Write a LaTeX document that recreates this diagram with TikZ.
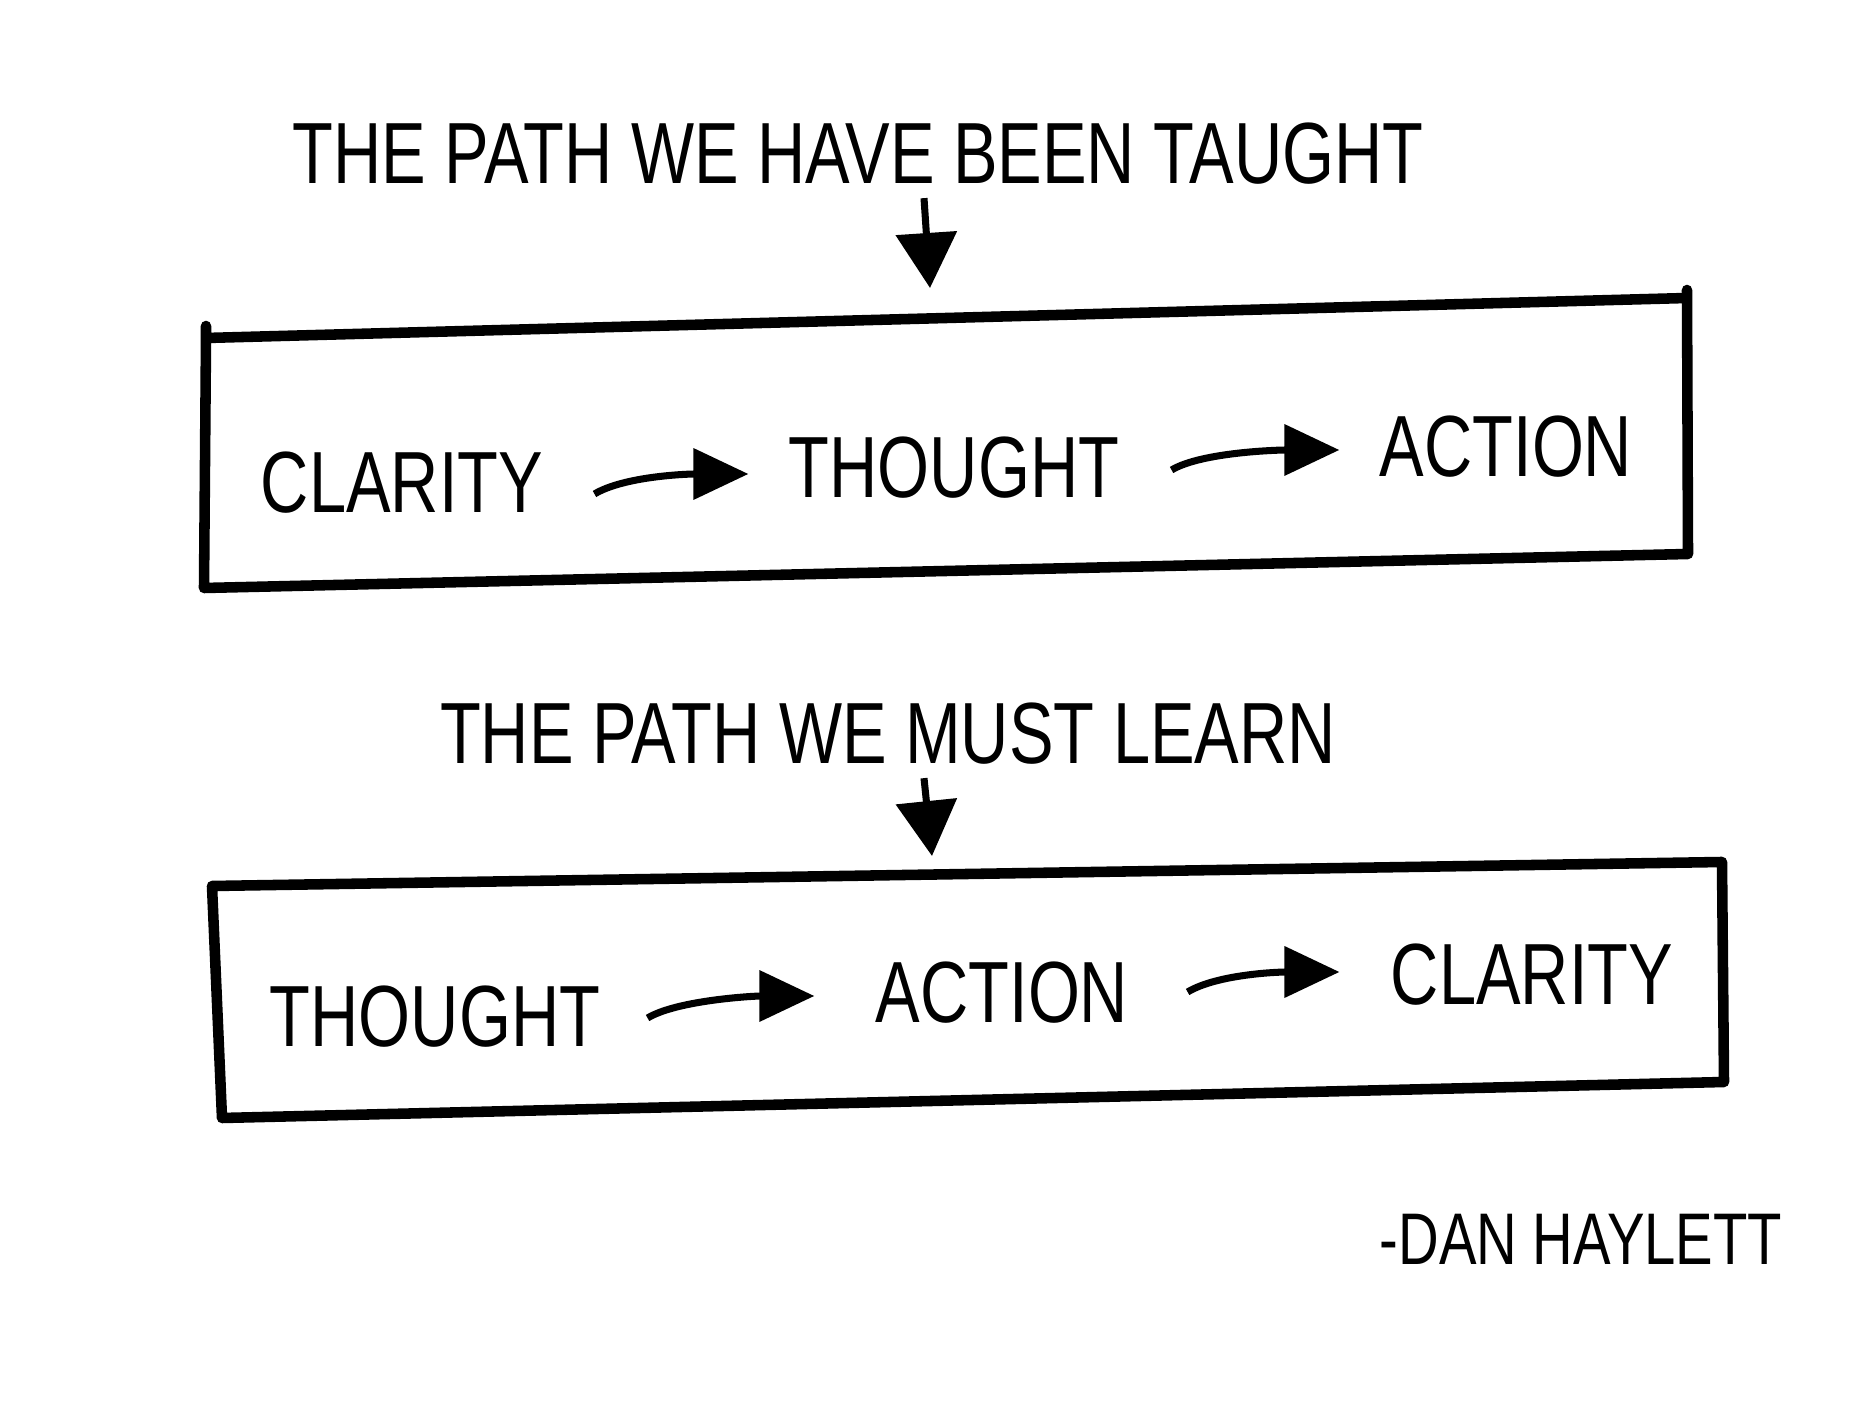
\documentclass[tikz,border=0pt]{standalone}
\usepackage{fontspec}
\usepackage{graphicx}
\usepackage{tikz}
\usetikzlibrary{arrows.meta}
\newfontfamily\handfont{Liberation Sans}
\newcommand{\tallcaps}[1]{\scalebox{1}[1.3]{#1}}

\begin{document}
\begin{tikzpicture}[x=0.01cm,y=-0.01cm,thick]

			\tikzstyle{word} = [inner sep=0pt,font=\handfont\fontsize{19}{22}\selectfont]
			\tikzstyle{frame} = [line width=3pt,line cap=round,line join=round]
			\tikzstyle{flow} = [line width=2pt,-{Triangle[length=0.55cm,width=0.5cm]}]
			\tikzstyle{drop} = [line width=2pt,-{Triangle[length=0.55cm,width=0.6cm]}]

			\useasboundingbox (0,0) rectangle (1872,1404);

			% first path
			\node[word] (taught) at (858,154) {\tallcaps{THE PATH WE HAVE BEEN TAUGHT}};
			\coordinate (in1) at (930,288);
			\draw[drop] (taught.south -| 924,0) ++(0,12) -- (in1);

			\draw[frame] (206,326) -- (206,338) -- (1687,298) (1687,290) -- (1688,554) -- (204,588) -- (206,338);

			\node[word] (clarity1) at (402,483) {\tallcaps{CLARITY}};
			\node[word] (thought1) at (954,468) {\tallcaps{THOUGHT}};
			\node[word] (action1) at (1506,447) {\tallcaps{ACTION}};

			\draw[flow] ([shift={(50,11)}]clarity1.east) .. controls +(30,-18) and +(-60,0) .. ([shift={(-39,6)}]thought1.west);
			\draw[flow] ([shift={(51,2)}]thought1.east) .. controls +(30,-18) and +(-60,0) .. ([shift={(-39,3)}]action1.west);

			% second path
			\node[word] (learn) at (888,734) {\tallcaps{THE PATH WE MUST LEARN}};
			\coordinate (in2) at (932,856);
			\draw[drop] (learn.south -| 924,0) ++(0,12) -- (in2);

			\draw[frame] (212,886) -- (1722,862) -- (1724,1082) -- (222,1118) -- cycle;

			\node[word] (thought2) at (435,1017) {\tallcaps{THOUGHT}};
			\node[word] (action2) at (1002,993) {\tallcaps{ACTION}};
			\node[word] (clarity2) at (1532,975) {\tallcaps{CLARITY}};

			\draw[flow] ([shift={(46,1)}]thought2.east) .. controls +(30,-18) and +(-60,0) .. ([shift={(-60,3)}]action2.west);
			\draw[flow] ([shift={(58,-1)}]action2.east) .. controls +(30,-18) and +(-60,0) .. ([shift={(-50,-3)}]clarity2.west);

			\node[word,font=\handfont\fontsize{16}{19}\selectfont] (author) at (1581,1239) {\tallcaps{-DAN HAYLETT}};

\end{tikzpicture}
\end{document}
